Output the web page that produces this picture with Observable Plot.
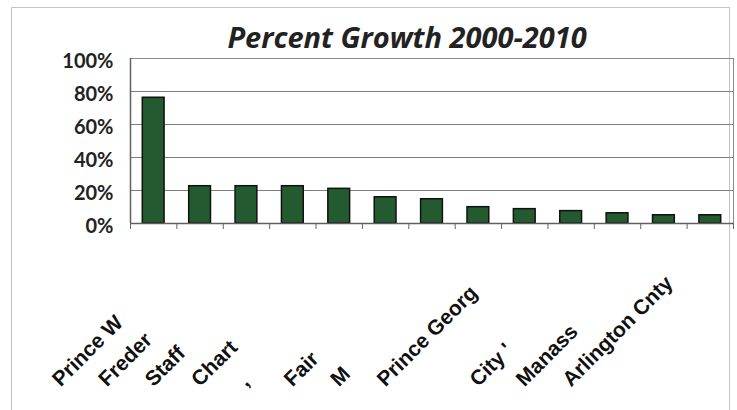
<!DOCTYPE html>
<html><head><meta charset="utf-8">
<script src="https://cdn.jsdelivr.net/npm/d3@7"></script>
<script src="https://cdn.jsdelivr.net/npm/@observablehq/plot@0.6"></script>
<style>
body{margin:0;background:#fff;}
#wrap{position:relative;width:737px;height:410px;overflow:hidden;}
#border{position:absolute;left:11px;top:7px;width:719px;height:430px;border:1px solid #c4c4c4;box-sizing:border-box;}
#chart{position:absolute;left:0;top:0;}
</style></head><body><div id="wrap"><div id="border"></div><div id="chart"></div></div>
<script>
const title = "Percent Growth 2000-2010";
const categories = ["Prince W", "Freder", "Staff", "Chart", ",", "Fair", "M", "Prince Georg", "", "City '", "Manass", "Arlington Cnty", ""];
const growth = [0.762, 0.226, 0.226, 0.226, 0.21, 0.159, 0.147, 0.099, 0.087, 0.075, 0.062, 0.05, 0.05];
const yTicks = [0, 0.2, 0.4, 0.6, 0.8, 1];

const data = categories.map((label, i) => ({i, label, value: growth[i]}));

const chart = Plot.plot({
  width: 737, height: 410,
  marginLeft: 130, marginRight: 4, marginTop: 58, marginBottom: 187,
  x: {domain: [0, categories.length], label: null},
  y: {domain: [0, 1], label: null},
  style: {background: "transparent"},
  marks: [
    Plot.gridY(yTicks.slice(1, -1), {stroke: "#808080", strokeOpacity: 1}),
    Plot.frame({stroke: "#8a8a8a"}),
    Plot.rectY(data, {x1: "i", x2: d => d.i + 1, y: "value", insetLeft: 12.3, insetRight: 12.3,
      fill: "#245a30", stroke: "#111", strokeWidth: 1.5}),
    Plot.ruleX([0], {stroke: "#606060", strokeWidth: 1.5}),
    Plot.axisX(d3.range(categories.length + 1), {tickSize: 6, tickFormat: () => "", stroke: "#666", label: null}),
    Plot.ruleY([0], {stroke: "#606060", strokeWidth: 1.5}),
    Plot.axisY(yTicks, {tickSize: 0, tickPadding: 17, tickFormat: d3.format(".0%"), label: null,
      fontSize: 20, fontWeight: "bold", fontFamily: "Lato", fill: "#222", dy: 3}),
    Plot.text(data, {x: d => d.i + 0.5, text: "label", frameAnchor: "bottom", rotate: -45,
      textAnchor: "start", dx: -93, dy: 164, fontSize: 21, fontWeight: "bold",
      fontFamily: "Liberation Sans", fill: "#111"}),
    Plot.text([title], {frameAnchor: "top", dx: -25, dy: -11, lineAnchor: "bottom", text: d => d,
      fontSize: 29, fontWeight: "bold", fontStyle: "italic", fontFamily: "Open Sans", fill: "#222"})
  ]
});
document.getElementById("chart").appendChild(chart);
</script>
</body></html>
